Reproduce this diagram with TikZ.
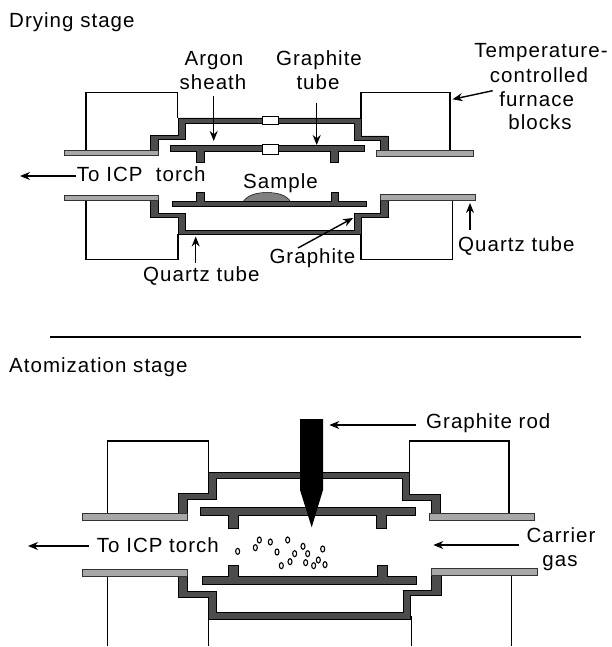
\documentclass[tikz,border=0pt]{standalone}
\usepackage{fontspec}
\setmainfont[LetterSpace=5]{Liberation Sans}
\usetikzlibrary{arrows.meta}
\definecolor{darkfill}{gray}{0.30}
\definecolor{lightfill}{gray}{0.66}
\definecolor{samplefill}{gray}{0.50}
\tikzset{
  lbl/.style={inner sep=0pt,anchor=base,font=\fontsize{20.5}{24}\selectfont,text=black},
  lbll/.style={lbl,anchor=base west},
  dk/.style={fill=darkfill,draw=black,line width=0.7pt},
  lt/.style={fill=lightfill,draw=black!80,line width=0.5pt},
  win/.style={fill=white,draw=black,line width=0.9pt},
  blk/.style={draw=black,line width=1.2pt},
  arr/.style={draw=black,line width=1.4pt,-{Stealth[length=10pt,width=8pt]}},
  rule/.style={draw=black,line width=1.1pt},
  bub/.style={draw=black,line width=1.1pt,fill=white}
}
\begin{document}
\begin{tikzpicture}[x=1pt,y=-1pt]
\useasboundingbox (0,0) rectangle (612,647);
% ---------- Drying stage ----------
\draw[blk] (86,150) -- (86,92.7) -- (177.7,92.7) -- (177.7,118);
\draw[blk] (361,118) -- (361,92.7) -- (450,92.7) -- (450,150);
\draw[blk] (86,200) -- (86,259.3) -- (178,259.3) -- (178,234);
\draw[blk] (361,234) -- (361,259.3) -- (452.7,259.3) -- (452.7,200);
% upper furnace wall
\draw[dk] (150.7,155) -- (150.7,135.5) -- (178,135.5) -- (178,118) -- (361,118) -- (361,136) -- (388,136) -- (388,151) -- (380,151) -- (380,140) -- (354,140) -- (354,123) -- (185,123) -- (185,139.5) -- (158.3,139.5) -- (158.3,155) -- cycle;
% lower furnace wall
\draw[dk] (150.7,200) -- (150.7,217.7) -- (178,217.7) -- (178,234.7) -- (361,234.7) -- (361,217.5) -- (388,217.5) -- (388,199) -- (380,199) -- (380,213.5) -- (354,213.5) -- (354,230) -- (185,230) -- (185,213.5) -- (158.3,213.5) -- (158.3,200) -- cycle;
% quartz ends
\draw[lt] (64.3,150.5) rectangle (158.3,155.7);
\draw[lt] (376.7,150.5) rectangle (473.3,155.9);
\draw[lt] (64.3,195) rectangle (158.3,200.7);
\draw[lt] (380,194.5) rectangle (475,200.7);
% graphite tube upper
\draw[dk] (170,145.7) -- (364,145.7) -- (364,151.3) -- (338.5,151.3) -- (338.5,162.3) -- (330.7,162.3) -- (330.7,151.3) -- (204,151.3) -- (204,162.3) -- (196,162.3) -- (196,151.3) -- (170,151.3) -- cycle;
% sample
\draw[fill=samplefill,draw=black,line width=0.5pt] (243,202) .. controls (247,195) and (257,192.5) .. (267,192.5) .. controls (277,192.5) and (287,195) .. (290.7,202) -- cycle;
% graphite tube lower
\draw[dk] (172.3,206) -- (366.7,206) -- (366.7,201) -- (338.5,201) -- (338.5,192.5) -- (331,192.5) -- (331,201) -- (204,201) -- (204,192.5) -- (196,192.5) -- (196,201) -- (172.3,201) -- cycle;
% windows
\draw[win] (262,116.7) rectangle (278.3,124.3);
\draw[win] (262,144.7) rectangle (278.3,154);
% labels
\node[lbll] (dry) at (9,28) {Drying stage};
\node[lbl] (argon) at (214,66) {Argon};
\node[lbl] (sheath) at (213,90) {sheath};
\node[lbl] (gt1) at (319,66) {Graphite};
\node[lbl] (gt2) at (318,90) {tube};
\node[lbl] (tc1) at (541,58) {Temperature-};
\node[lbl] (tc2) at (539,82.7) {controlled};
\node[lbl] (tc3) at (536.7,106.7) {furnace};
\node[lbl] (tc4) at (540,130) {blocks};
\node[lbll] (icp1) at (76.7,181.7) {To ICP\ \ torch};
\node[lbll] (sample) at (243,188) {Sample};
\node[lbll] (gr) at (269.3,263) {Graphite};
\node[lbll] (qt1) at (143,281.7) {Quartz tube};
\node[lbll] (qt2) at (458,251.7) {Quartz tube};
% arrow ends
\coordinate (aS) at (213.7,96);    \coordinate (aE) at (213.7,141);
\coordinate (bS) at (316.7,103);   \coordinate (bE) at (316.7,145);
\coordinate (cS) at (492.7,90.7);  \coordinate (cE) at (452.5,99.3);
\coordinate (dS) at (470,230);     \coordinate (dE) at (470,203);
\coordinate (eS) at (195.7,263);   \coordinate (eE) at (195.7,236.5);
\coordinate (fS) at (298,248);     \coordinate (fE) at (353,218);
\coordinate (gS) at (76,176);      \coordinate (gE) at (20,176);
\draw[arr] (aS) -- (aE);
\draw[arr] (bS) -- (bE);
\draw[arr] (cS) -- (cE);
\draw[arr] (dS) -- (dE);
\draw[arr] (eS) -- (eE);
\draw[arr] (fS) -- (fE);
\draw[arr] (gS) -- (gE);
% separator
\coordinate (rL) at (50,337);  \coordinate (rR) at (581,337);
\draw[rule] (rL) -- (rR);
% ---------- Atomization stage ----------
\node[lbll] (atom) at (9,372) {Atomization stage};
\draw[blk] (107.7,513.3) -- (107.7,441) -- (208.3,441) -- (208.3,473);
\draw[blk] (409.3,473) -- (409.3,441) -- (509,441) -- (509,513.3);
\draw[blk] (107.7,576) -- (107.7,646);
\draw[blk] (208.3,616) -- (208.3,646);
\draw[blk] (411.7,616) -- (411.7,646);
\draw[blk] (511.7,576) -- (511.7,646);
% upper wall
\draw[dk] (178.3,520) -- (178.3,493.5) -- (208.3,493.5) -- (208.3,472.3) -- (409.3,472.3) -- (409.3,494.3) -- (440.7,494.3) -- (440.7,520) -- (431,520) -- (431,500) -- (402.7,500) -- (402.7,478.3) -- (216,478.3) -- (216,499) -- (187.3,499) -- (187.3,520) -- cycle;
% lower wall
\draw[dk] (178.3,576) -- (178.3,597) -- (208.3,597) -- (208.3,619.3) -- (410.7,619.3) -- (410.7,595.7) -- (441,595.7) -- (441,575) -- (431.3,575) -- (431.3,590) -- (403.3,590) -- (403.3,612.3) -- (216,612.3) -- (216,591.7) -- (187.3,591.7) -- (187.3,576) -- cycle;
% quartz ends
\draw[lt] (82.3,513.3) rectangle (187.3,520.3);
\draw[lt] (429.3,513.3) rectangle (534.3,520);
\draw[lt] (82.3,569) rectangle (187.3,576);
\draw[lt] (431.3,568.7) rectangle (537.7,575.7);
% graphite tubes
\draw[dk] (200,507.3) -- (415,507.3) -- (415,515) -- (386.7,515) -- (386.7,528.3) -- (376.7,528.3) -- (376.7,515) -- (238.3,515) -- (238.3,528.3) -- (228.7,528.3) -- (228.7,515) -- (200,515) -- cycle;
\draw[dk] (202.3,584) -- (416.7,584) -- (416.7,576.3) -- (387,576.3) -- (387,565) -- (377.3,565) -- (377.3,576.3) -- (238.3,576.3) -- (238.3,565) -- (228.7,565) -- (228.7,576.3) -- (202.3,576.3) -- cycle;
% rod
\fill[black] (300,419) -- (323,419) -- (323,490) -- (311.7,527.3) -- (300,490) -- cycle;
% bubbles
\foreach \a/\b in {503/424,556/413,568/390,601/396,653/390,621/426,699/409,674/431,713/431,758/417,634/467,660/455,707/458,731/467,745/450,765/464}
  \draw[bub] ({70+\a/3},{410+\b/3}) ellipse [x radius=2pt,y radius=3pt];
% labels
\node[lbll] (rodl) at (426,428) {Graphite rod};
\node[lbll] (icp2) at (96.7,552.7) {To ICP torch};
\node[lbl] (car1) at (561,542.7) {Carrier};
\node[lbl] (car2) at (560,566.7) {gas};
% arrows
\coordinate (hS) at (416,425);   \coordinate (hE) at (329.3,425);
\coordinate (iS) at (89,546);    \coordinate (iE) at (28,546);
\coordinate (jS) at (519.3,545); \coordinate (jE) at (433.3,545);
\draw[arr] (hS) -- (hE);
\draw[arr] (iS) -- (iE);
\draw[arr] (jS) -- (jE);
\end{tikzpicture}
\end{document}
